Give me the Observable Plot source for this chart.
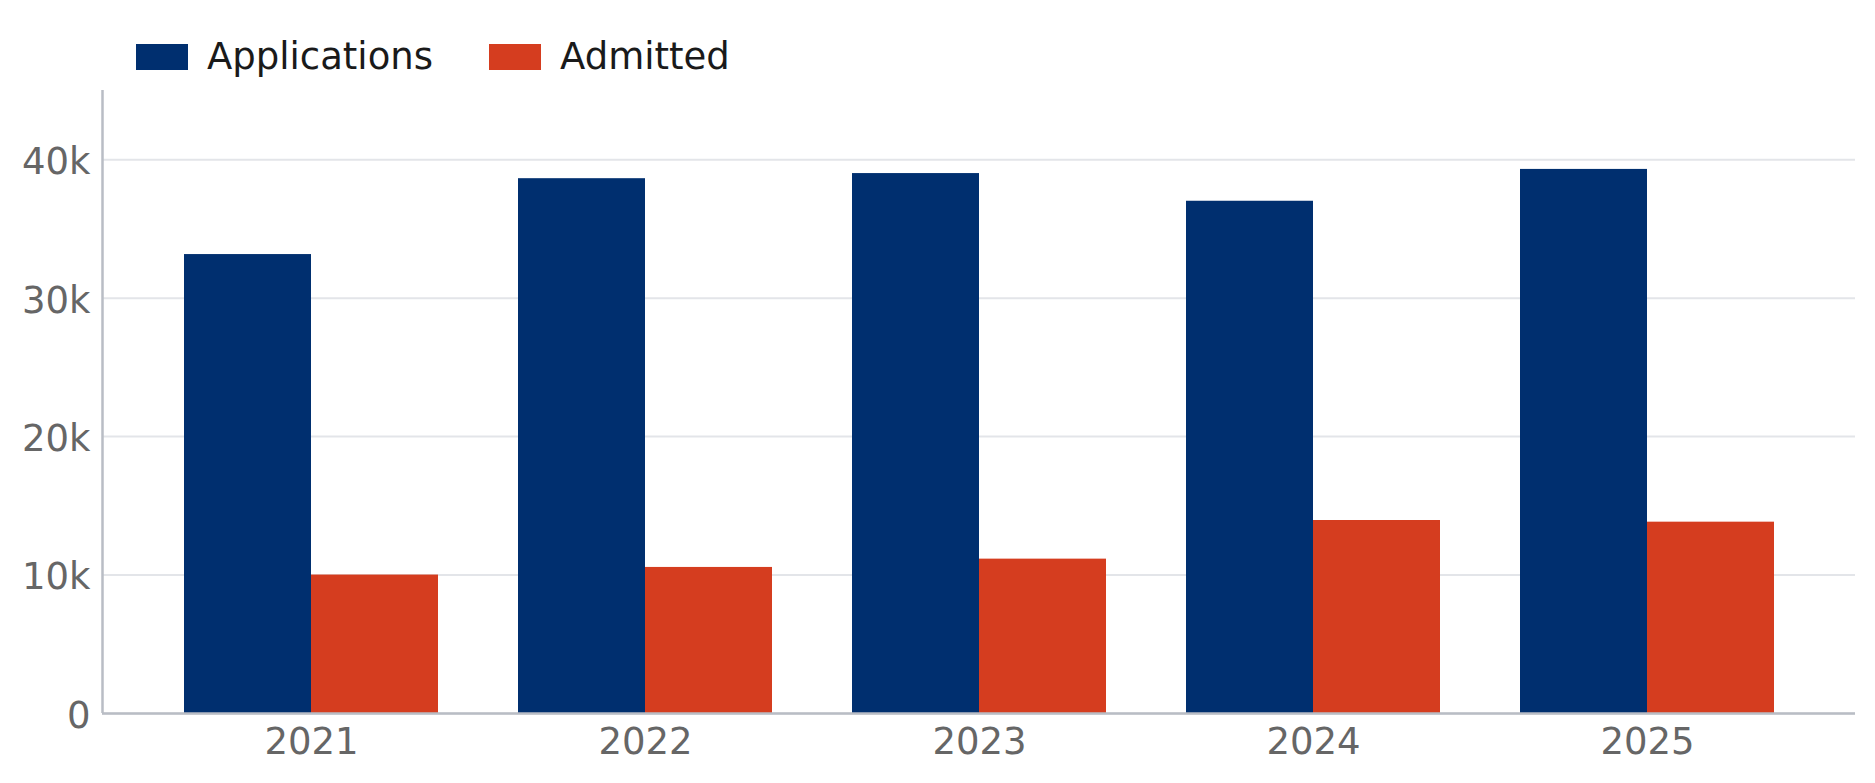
<!DOCTYPE html>
<html>
<head>
<meta charset="utf-8">
<script src="https://cdn.jsdelivr.net/npm/d3@7"></script>
<script src="https://cdn.jsdelivr.net/npm/@observablehq/plot@0.6"></script>
<style>
  html, body { margin: 0; padding: 0; background: #ffffff; }
  body { width: 1875px; height: 783px; overflow: hidden; font-family: "DejaVu Sans", sans-serif; }
  #legend { height: 80px; box-sizing: border-box; padding-top: 33px; padding-left: 136px; display: flex; align-items: center; }
  .item { display: flex; align-items: center; margin-right: 56px; height: 38px; }
  .sw { width: 52px; height: 26px; margin-right: 19px; }
  .lab { font-size: 37px; line-height: 38px; color: #1a1a1a; white-space: nowrap; }
  #chart { position: relative; width: 1875px; height: 703px; }
  #chart > svg { position: absolute; left: 0; top: 0; }
</style>
</head>
<body>
<div id="legend"></div>
<div id="chart"></div>
<script>
const years = ["2021", "2022", "2023", "2024", "2025"];
const seriesNames = ["Applications", "Admitted"];
const applications = [33150, 38630, 39000, 37000, 39300];
const admitted = [10000, 10550, 11150, 13940, 13820];
const seriesColors = ["#002f6f", "#d53d1f"];
const yTicks = [0, 10000, 20000, 30000, 40000];
const yTickLabels = ["0", "10k", "20k", "30k", "40k"];

const seriesValues = [applications, admitted];
const rows = [];
years.forEach((yr, i) => {
  seriesNames.forEach((s, j) => rows.push({year: yr, series: s, value: seriesValues[j][i]}));
});

// legend
const legend = document.getElementById("legend");
seriesNames.forEach((s, j) => {
  const item = document.createElement("div");
  item.className = "item";
  const sw = document.createElement("div");
  sw.className = "sw";
  sw.style.background = seriesColors[j];
  const lab = document.createElement("span");
  lab.className = "lab";
  lab.textContent = s;
  item.appendChild(sw);
  item.appendChild(lab);
  legend.appendChild(item);
});

const common = {
  width: 1875,
  height: 703,
  marginTop: 10,
  marginBottom: 70,
  marginLeft: 102,
  marginRight: 20,
  y: {domain: [0, 45000], axis: null}
};

// background: grid and y tick labels
const back = Plot.plot({
  ...common,
  style: {fontFamily: "DejaVu Sans", fontSize: "37px", background: "#ffffff", overflow: "visible"},
  marks: [
    Plot.gridY(yTicks, {stroke: "#e3e5e9", strokeOpacity: 1, strokeWidth: 2}),
    Plot.axisY(yTicks, {tickSize: 0, tickPadding: 12, dy: 2.5, fill: "#666666",
      tickFormat: (d) => yTickLabels[yTicks.indexOf(d)], label: null})
  ]
});

// foreground: grouped bars via fx facets, with year labels from the fx axis
const front = Plot.plot({
  ...common,
  style: {fontFamily: "DejaVu Sans", fontSize: "37px", color: "#666666", background: "transparent", overflow: "visible"},
  fx: {domain: years, paddingInner: 0.24, paddingOuter: 0.24, axis: "bottom", tickSize: 0, tickPadding: 14, label: null},
  x: {domain: seriesNames, padding: 0, axis: null},
  color: {domain: seriesNames, range: seriesColors},
  marks: [
    Plot.barY(rows, {fx: "year", x: "series", y: "value", fill: "series"})
  ]
});

// overlay: axis lines
const lines = Plot.plot({
  ...common,
  style: {background: "transparent", overflow: "visible"},
  x: {type: "linear", domain: [0, 1], axis: null},
  marks: [
    Plot.ruleY([0], {stroke: "#b9bdc5", strokeWidth: 2.5}),
    Plot.ruleX([0], {stroke: "#b9bdc5", strokeWidth: 2.5})
  ]
});

const holder = document.getElementById("chart");
holder.appendChild(back);
holder.appendChild(front);
holder.appendChild(lines);
</script>
</body>
</html>
